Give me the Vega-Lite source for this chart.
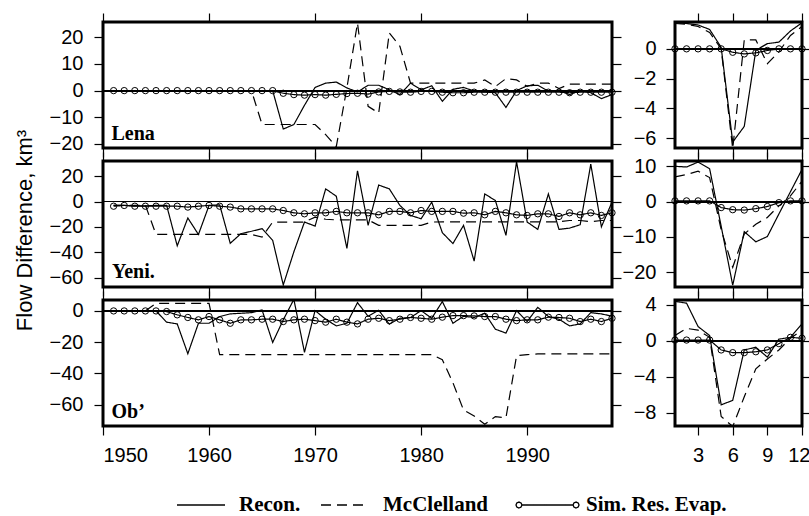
{
"$schema": "https://vega.github.io/schema/vega-lite/v6.json",
"padding": {"left": 11, "top": 10, "right": 0, "bottom": 0},
"background": "white",
"config": {
 "view": {"stroke": "black", "strokeWidth": 3},
 "axis": {"labelFont": "Liberation Sans", "labelFontSize": 20, "labelColor": "black", "tickColor": "black", "tickSize": 9, "tickWidth": 1.2, "domain": false, "grid": false, "labelPadding": 10, "titleFont": "Liberation Sans", "titleFontSize": 22, "titleFontWeight": "normal", "titleColor": "black", "format": "d"},
 "line": {"color": "black"},
 "point": {"color": "black"},
 "legend": {"orient": "none", "legendX": 62, "legendY": 449, "direction": "horizontal", "title": null, "padding": 0,
   "symbolType": "stroke", "symbolSize": 4356, "symbolStrokeWidth": 1.3, "symbolStrokeColor": "black",
   "labelFont": "Liberation Serif", "labelFontWeight": "bold", "labelFontSize": 21, "labelColor": "black", "labelOffset": 6, "columnPadding": 8, "labelLimit": 300}
},
"datasets": {
"lenaA": [
{"t":1951,"s":"R","v":0},{"t":1952,"s":"R","v":0},{"t":1953,"s":"R","v":0},{"t":1954,"s":"R","v":0},{"t":1955,"s":"R","v":0},{"t":1956,"s":"R","v":0},{"t":1957,"s":"R","v":0},{"t":1958,"s":"R","v":0},{"t":1959,"s":"R","v":0},{"t":1960,"s":"R","v":0},{"t":1961,"s":"R","v":0},{"t":1962,"s":"R","v":0},{"t":1963,"s":"R","v":0},{"t":1964,"s":"R","v":0},{"t":1965,"s":"R","v":0},{"t":1966,"s":"R","v":0},{"t":1967,"s":"R","v":-14.4},{"t":1968,"s":"R","v":-12.7},{"t":1969,"s":"R","v":-5.5},{"t":1970,"s":"R","v":1.2},{"t":1971,"s":"R","v":2.8},{"t":1972,"s":"R","v":3.2},{"t":1973,"s":"R","v":1.0},{"t":1974,"s":"R","v":-0.5},{"t":1975,"s":"R","v":2.0},{"t":1976,"s":"R","v":2.0},{"t":1977,"s":"R","v":0.3},{"t":1978,"s":"R","v":-1.5},{"t":1979,"s":"R","v":2.8},{"t":1980,"s":"R","v":0.3},{"t":1981,"s":"R","v":1.8},{"t":1982,"s":"R","v":-4.0},{"t":1983,"s":"R","v":0.5},{"t":1984,"s":"R","v":1.2},{"t":1985,"s":"R","v":-0.2},{"t":1986,"s":"R","v":-0.5},{"t":1987,"s":"R","v":-0.8},{"t":1988,"s":"R","v":-6.3},{"t":1989,"s":"R","v":0},{"t":1990,"s":"R","v":1.8},{"t":1991,"s":"R","v":2.0},{"t":1992,"s":"R","v":-0.2},{"t":1993,"s":"R","v":0},{"t":1994,"s":"R","v":-1.5},{"t":1995,"s":"R","v":0},{"t":1996,"s":"R","v":-0.8},{"t":1997,"s":"R","v":-3.0},{"t":1998,"s":"R","v":-1.5},
{"t":1951,"s":"M","v":0},{"t":1952,"s":"M","v":0},{"t":1953,"s":"M","v":0},{"t":1954,"s":"M","v":0},{"t":1955,"s":"M","v":0},{"t":1956,"s":"M","v":0},{"t":1957,"s":"M","v":0},{"t":1958,"s":"M","v":0},{"t":1959,"s":"M","v":0},{"t":1960,"s":"M","v":0},{"t":1961,"s":"M","v":0},{"t":1962,"s":"M","v":0},{"t":1963,"s":"M","v":0},{"t":1964,"s":"M","v":0},{"t":1965,"s":"M","v":-12.7},{"t":1966,"s":"M","v":-12.7},{"t":1967,"s":"M","v":-12.7},{"t":1968,"s":"M","v":-12.7},{"t":1969,"s":"M","v":-12.7},{"t":1970,"s":"M","v":-12.7},{"t":1971,"s":"M","v":-16.5},{"t":1972,"s":"M","v":-21},{"t":1973,"s":"M","v":1},{"t":1974,"s":"M","v":25.3},{"t":1975,"s":"M","v":-5.9},{"t":1976,"s":"M","v":-8.4},{"t":1977,"s":"M","v":21.6},{"t":1978,"s":"M","v":16.6},{"t":1979,"s":"M","v":2.8},{"t":1980,"s":"M","v":2.8},{"t":1981,"s":"M","v":2.8},{"t":1982,"s":"M","v":2.8},{"t":1983,"s":"M","v":2.8},{"t":1984,"s":"M","v":2.8},{"t":1985,"s":"M","v":2.8},{"t":1986,"s":"M","v":4.0},{"t":1987,"s":"M","v":1.5},{"t":1988,"s":"M","v":4.5},{"t":1989,"s":"M","v":4.0},{"t":1990,"s":"M","v":1.6},{"t":1991,"s":"M","v":2.8},{"t":1992,"s":"M","v":2.8},{"t":1993,"s":"M","v":0.8},{"t":1994,"s":"M","v":2.4},{"t":1995,"s":"M","v":2.4},{"t":1996,"s":"M","v":2.4},{"t":1997,"s":"M","v":2.4},{"t":1998,"s":"M","v":2.4},
{"t":1951,"s":"S","v":0},{"t":1952,"s":"S","v":0},{"t":1953,"s":"S","v":0},{"t":1954,"s":"S","v":0},{"t":1955,"s":"S","v":0},{"t":1956,"s":"S","v":0},{"t":1957,"s":"S","v":0},{"t":1958,"s":"S","v":0},{"t":1959,"s":"S","v":0},{"t":1960,"s":"S","v":0},{"t":1961,"s":"S","v":0},{"t":1962,"s":"S","v":0},{"t":1963,"s":"S","v":0},{"t":1964,"s":"S","v":0},{"t":1965,"s":"S","v":0},{"t":1966,"s":"S","v":0},{"t":1967,"s":"S","v":-1.0},{"t":1968,"s":"S","v":-1.5},{"t":1969,"s":"S","v":-1.7},{"t":1970,"s":"S","v":-1.5},{"t":1971,"s":"S","v":-1.7},{"t":1972,"s":"S","v":-1.4},{"t":1973,"s":"S","v":-1.1},{"t":1974,"s":"S","v":-1.0},{"t":1975,"s":"S","v":-1.3},{"t":1976,"s":"S","v":-0.5},{"t":1977,"s":"S","v":-0.3},{"t":1978,"s":"S","v":-0.5},{"t":1979,"s":"S","v":-0.6},{"t":1980,"s":"S","v":-0.3},{"t":1981,"s":"S","v":-0.3},{"t":1982,"s":"S","v":-0.6},{"t":1983,"s":"S","v":-0.8},{"t":1984,"s":"S","v":-0.8},{"t":1985,"s":"S","v":-0.6},{"t":1986,"s":"S","v":-0.6},{"t":1987,"s":"S","v":-0.6},{"t":1988,"s":"S","v":-0.6},{"t":1989,"s":"S","v":-0.6},{"t":1990,"s":"S","v":-0.6},{"t":1991,"s":"S","v":-0.6},{"t":1992,"s":"S","v":-0.6},{"t":1993,"s":"S","v":-0.6},{"t":1994,"s":"S","v":-0.8},{"t":1995,"s":"S","v":-0.6},{"t":1996,"s":"S","v":-0.6},{"t":1997,"s":"S","v":-0.6},{"t":1998,"s":"S","v":-0.6}
],
"yeniA": [
{"t":1951,"s":"R","v":-3},{"t":1952,"s":"R","v":-3},{"t":1953,"s":"R","v":-3.5},{"t":1954,"s":"R","v":-3.5},{"t":1955,"s":"R","v":-3},{"t":1956,"s":"R","v":-3},{"t":1957,"s":"R","v":-35},{"t":1958,"s":"R","v":-13},{"t":1959,"s":"R","v":-26},{"t":1960,"s":"R","v":-3.1},{"t":1961,"s":"R","v":-2.6},{"t":1962,"s":"R","v":-33},{"t":1963,"s":"R","v":-25.4},{"t":1964,"s":"R","v":-23.5},{"t":1965,"s":"R","v":-21.4},{"t":1966,"s":"R","v":-30.6},{"t":1967,"s":"R","v":-65.9},{"t":1968,"s":"R","v":-39.7},{"t":1969,"s":"R","v":-16.2},{"t":1970,"s":"R","v":-19.4},{"t":1971,"s":"R","v":10},{"t":1972,"s":"R","v":4.2},{"t":1973,"s":"R","v":-37},{"t":1974,"s":"R","v":24.3},{"t":1975,"s":"R","v":-18.8},{"t":1976,"s":"R","v":13},{"t":1977,"s":"R","v":10},{"t":1978,"s":"R","v":-3.1},{"t":1979,"s":"R","v":-11},{"t":1980,"s":"R","v":-13.6},{"t":1981,"s":"R","v":-0.5},{"t":1982,"s":"R","v":-24.6},{"t":1983,"s":"R","v":-33.2},{"t":1984,"s":"R","v":-18.8},{"t":1985,"s":"R","v":-47},{"t":1986,"s":"R","v":6},{"t":1987,"s":"R","v":0.8},{"t":1988,"s":"R","v":-26.7},{"t":1989,"s":"R","v":31.4},{"t":1990,"s":"R","v":-16.2},{"t":1991,"s":"R","v":-22},{"t":1992,"s":"R","v":6},{"t":1993,"s":"R","v":-22},{"t":1994,"s":"R","v":-21},{"t":1995,"s":"R","v":-18.3},{"t":1996,"s":"R","v":29.5},{"t":1997,"s":"R","v":-20},{"t":1998,"s":"R","v":-0.5},
{"t":1951,"s":"M","v":-3},{"t":1952,"s":"M","v":-3},{"t":1953,"s":"M","v":-3},{"t":1954,"s":"M","v":-3},{"t":1955,"s":"M","v":-26},{"t":1956,"s":"M","v":-26},{"t":1957,"s":"M","v":-26},{"t":1958,"s":"M","v":-26},{"t":1959,"s":"M","v":-26},{"t":1960,"s":"M","v":-26},{"t":1961,"s":"M","v":-26},{"t":1962,"s":"M","v":-26},{"t":1963,"s":"M","v":-26},{"t":1964,"s":"M","v":-26},{"t":1965,"s":"M","v":-28},{"t":1966,"s":"M","v":-16.2},{"t":1967,"s":"M","v":-16.2},{"t":1968,"s":"M","v":-16.2},{"t":1969,"s":"M","v":-16.2},{"t":1970,"s":"M","v":-12.3},{"t":1971,"s":"M","v":-14},{"t":1972,"s":"M","v":-14.5},{"t":1973,"s":"M","v":-14.5},{"t":1974,"s":"M","v":-14.5},{"t":1975,"s":"M","v":-14.5},{"t":1976,"s":"M","v":-18.8},{"t":1977,"s":"M","v":-18.8},{"t":1978,"s":"M","v":-18.8},{"t":1979,"s":"M","v":-18.8},{"t":1980,"s":"M","v":-18.8},{"t":1981,"s":"M","v":-16.2},{"t":1982,"s":"M","v":-16},{"t":1983,"s":"M","v":-16},{"t":1984,"s":"M","v":-16},{"t":1985,"s":"M","v":-16},{"t":1986,"s":"M","v":-16},{"t":1987,"s":"M","v":-16},{"t":1988,"s":"M","v":-16},{"t":1989,"s":"M","v":-16},{"t":1990,"s":"M","v":-16},{"t":1991,"s":"M","v":-16},{"t":1992,"s":"M","v":-16},{"t":1993,"s":"M","v":-16},{"t":1994,"s":"M","v":-15},{"t":1995,"s":"M","v":-15},{"t":1996,"s":"M","v":-16},{"t":1997,"s":"M","v":-15},{"t":1998,"s":"M","v":-15},
{"t":1951,"s":"S","v":-3.7},{"t":1952,"s":"S","v":-3.1},{"t":1953,"s":"S","v":-3.7},{"t":1954,"s":"S","v":-3.7},{"t":1955,"s":"S","v":-3.7},{"t":1956,"s":"S","v":-3.7},{"t":1957,"s":"S","v":-3.7},{"t":1958,"s":"S","v":-4.4},{"t":1959,"s":"S","v":-3.7},{"t":1960,"s":"S","v":-3.1},{"t":1961,"s":"S","v":-3.7},{"t":1962,"s":"S","v":-4.4},{"t":1963,"s":"S","v":-5.8},{"t":1964,"s":"S","v":-5.8},{"t":1965,"s":"S","v":-5.8},{"t":1966,"s":"S","v":-5.8},{"t":1967,"s":"S","v":-7.1},{"t":1968,"s":"S","v":-8.9},{"t":1969,"s":"S","v":-9.7},{"t":1970,"s":"S","v":-8.9},{"t":1971,"s":"S","v":-8.9},{"t":1972,"s":"S","v":-7.8},{"t":1973,"s":"S","v":-8.9},{"t":1974,"s":"S","v":-8.9},{"t":1975,"s":"S","v":-8.9},{"t":1976,"s":"S","v":-10.5},{"t":1977,"s":"S","v":-7.8},{"t":1978,"s":"S","v":-7.8},{"t":1979,"s":"S","v":-8.9},{"t":1980,"s":"S","v":-7.1},{"t":1981,"s":"S","v":-7.8},{"t":1982,"s":"S","v":-7.8},{"t":1983,"s":"S","v":-7.8},{"t":1984,"s":"S","v":-9.2},{"t":1985,"s":"S","v":-8.9},{"t":1986,"s":"S","v":-10.5},{"t":1987,"s":"S","v":-7.8},{"t":1988,"s":"S","v":-8.9},{"t":1989,"s":"S","v":-10.5},{"t":1990,"s":"S","v":-11},{"t":1991,"s":"S","v":-9.7},{"t":1992,"s":"S","v":-9.7},{"t":1993,"s":"S","v":-11.8},{"t":1994,"s":"S","v":-8.9},{"t":1995,"s":"S","v":-10.5},{"t":1996,"s":"S","v":-8.9},{"t":1997,"s":"S","v":-11},{"t":1998,"s":"S","v":-8.9}
],
"obA": [
{"t":1951,"s":"R","v":0},{"t":1952,"s":"R","v":0},{"t":1953,"s":"R","v":0},{"t":1954,"s":"R","v":0},{"t":1955,"s":"R","v":0},{"t":1956,"s":"R","v":-7.2},{"t":1957,"s":"R","v":-8.3},{"t":1958,"s":"R","v":-27.4},{"t":1959,"s":"R","v":-7.9},{"t":1960,"s":"R","v":-7.9},{"t":1961,"s":"R","v":-3.6},{"t":1962,"s":"R","v":-1.9},{"t":1963,"s":"R","v":-1.5},{"t":1964,"s":"R","v":-1.1},{"t":1965,"s":"R","v":0.6},{"t":1966,"s":"R","v":-20.2},{"t":1967,"s":"R","v":-5.7},{"t":1968,"s":"R","v":7.4},{"t":1969,"s":"R","v":-26.5},{"t":1970,"s":"R","v":0.2},{"t":1971,"s":"R","v":-5.3},{"t":1972,"s":"R","v":-9.6},{"t":1973,"s":"R","v":-7.9},{"t":1974,"s":"R","v":5.3},{"t":1975,"s":"R","v":-3.4},{"t":1976,"s":"R","v":0.4},{"t":1977,"s":"R","v":-8.5},{"t":1978,"s":"R","v":-4.7},{"t":1979,"s":"R","v":-4.2},{"t":1980,"s":"R","v":0.2},{"t":1981,"s":"R","v":-4.7},{"t":1982,"s":"R","v":6},{"t":1983,"s":"R","v":-7.9},{"t":1984,"s":"R","v":-3.4},{"t":1985,"s":"R","v":-4.2},{"t":1986,"s":"R","v":-1.5},{"t":1987,"s":"R","v":-11.7},{"t":1988,"s":"R","v":-14.2},{"t":1989,"s":"R","v":0.2},{"t":1990,"s":"R","v":-6.8},{"t":1991,"s":"R","v":2.3},{"t":1992,"s":"R","v":-3.6},{"t":1993,"s":"R","v":-5.3},{"t":1994,"s":"R","v":-9.6},{"t":1995,"s":"R","v":-8.3},{"t":1996,"s":"R","v":-1.1},{"t":1997,"s":"R","v":-1.9},{"t":1998,"s":"R","v":-3.4},
{"t":1951,"s":"M","v":0},{"t":1952,"s":"M","v":0},{"t":1953,"s":"M","v":0},{"t":1954,"s":"M","v":0},{"t":1955,"s":"M","v":4.9},{"t":1956,"s":"M","v":4.9},{"t":1957,"s":"M","v":4.9},{"t":1958,"s":"M","v":4.9},{"t":1959,"s":"M","v":4.9},{"t":1960,"s":"M","v":4.9},{"t":1961,"s":"M","v":-28},{"t":1962,"s":"M","v":-28},{"t":1963,"s":"M","v":-28},{"t":1964,"s":"M","v":-28},{"t":1965,"s":"M","v":-28},{"t":1966,"s":"M","v":-28},{"t":1967,"s":"M","v":-28},{"t":1968,"s":"M","v":-28},{"t":1969,"s":"M","v":-28},{"t":1970,"s":"M","v":-28},{"t":1971,"s":"M","v":-28},{"t":1972,"s":"M","v":-28},{"t":1973,"s":"M","v":-28},{"t":1974,"s":"M","v":-28},{"t":1975,"s":"M","v":-28},{"t":1976,"s":"M","v":-28},{"t":1977,"s":"M","v":-28},{"t":1978,"s":"M","v":-28},{"t":1979,"s":"M","v":-28},{"t":1980,"s":"M","v":-28},{"t":1981,"s":"M","v":-28},{"t":1982,"s":"M","v":-31.2},{"t":1983,"s":"M","v":-46},{"t":1984,"s":"M","v":-63.5},{"t":1985,"s":"M","v":-67.3},{"t":1986,"s":"M","v":-72.6},{"t":1987,"s":"M","v":-67.7},{"t":1988,"s":"M","v":-68.4},{"t":1989,"s":"M","v":-28.7},{"t":1990,"s":"M","v":-28},{"t":1991,"s":"M","v":-27.5},{"t":1992,"s":"M","v":-27.5},{"t":1993,"s":"M","v":-27.5},{"t":1994,"s":"M","v":-27.5},{"t":1995,"s":"M","v":-27.5},{"t":1996,"s":"M","v":-27.5},{"t":1997,"s":"M","v":-27.5},{"t":1998,"s":"M","v":-27.5},
{"t":1951,"s":"S","v":0},{"t":1952,"s":"S","v":0},{"t":1953,"s":"S","v":0},{"t":1954,"s":"S","v":0},{"t":1955,"s":"S","v":0},{"t":1956,"s":"S","v":-0.4},{"t":1957,"s":"S","v":-2.5},{"t":1958,"s":"S","v":-4.2},{"t":1959,"s":"S","v":-5.7},{"t":1960,"s":"S","v":-3.6},{"t":1961,"s":"S","v":-5.7},{"t":1962,"s":"S","v":-7.9},{"t":1963,"s":"S","v":-5.7},{"t":1964,"s":"S","v":-5.7},{"t":1965,"s":"S","v":-5.3},{"t":1966,"s":"S","v":-5.3},{"t":1967,"s":"S","v":-6.8},{"t":1968,"s":"S","v":-5.7},{"t":1969,"s":"S","v":-5.3},{"t":1970,"s":"S","v":-6.2},{"t":1971,"s":"S","v":-7.2},{"t":1972,"s":"S","v":-5.3},{"t":1973,"s":"S","v":-7.2},{"t":1974,"s":"S","v":-8.3},{"t":1975,"s":"S","v":-5.3},{"t":1976,"s":"S","v":-4.7},{"t":1977,"s":"S","v":-6.2},{"t":1978,"s":"S","v":-5.3},{"t":1979,"s":"S","v":-4.2},{"t":1980,"s":"S","v":-4.7},{"t":1981,"s":"S","v":-5.3},{"t":1982,"s":"S","v":-4.0},{"t":1983,"s":"S","v":-3.0},{"t":1984,"s":"S","v":-3.0},{"t":1985,"s":"S","v":-3.2},{"t":1986,"s":"S","v":-3.6},{"t":1987,"s":"S","v":-3.6},{"t":1988,"s":"S","v":-5.3},{"t":1989,"s":"S","v":-6.2},{"t":1990,"s":"S","v":-5.7},{"t":1991,"s":"S","v":-5.7},{"t":1992,"s":"S","v":-4.0},{"t":1993,"s":"S","v":-4.2},{"t":1994,"s":"S","v":-4.7},{"t":1995,"s":"S","v":-6.8},{"t":1996,"s":"S","v":-5.3},{"t":1997,"s":"S","v":-6.8},{"t":1998,"s":"S","v":-4.7}
],
"lenaM": [
{"t":1,"s":"R","v":1.75},{"t":2,"s":"R","v":1.7},{"t":3,"s":"R","v":1.6},{"t":4,"s":"R","v":1.3},{"t":5,"s":"R","v":0.1},{"t":6,"s":"R","v":-6.25},{"t":7,"s":"R","v":-5.2},{"t":8,"s":"R","v":-0.1},{"t":9,"s":"R","v":0.35},{"t":10,"s":"R","v":0.45},{"t":11,"s":"R","v":1.2},{"t":12,"s":"R","v":1.75},
{"t":1,"s":"M","v":1.7},{"t":2,"s":"M","v":1.65},{"t":3,"s":"M","v":1.5},{"t":4,"s":"M","v":1.1},{"t":5,"s":"M","v":0},{"t":6,"s":"M","v":-6.7},{"t":7,"s":"M","v":0.6},{"t":8,"s":"M","v":0.6},{"t":9,"s":"M","v":-1.0},{"t":10,"s":"M","v":-0.2},{"t":11,"s":"M","v":0.9},{"t":12,"s":"M","v":1.5},
{"t":1,"s":"S","v":0},{"t":2,"s":"S","v":0},{"t":3,"s":"S","v":0},{"t":4,"s":"S","v":0},{"t":5,"s":"S","v":0},{"t":6,"s":"S","v":-0.23},{"t":7,"s":"S","v":-0.34},{"t":8,"s":"S","v":-0.27},{"t":9,"s":"S","v":-0.11},{"t":10,"s":"S","v":0},{"t":11,"s":"S","v":0},{"t":12,"s":"S","v":0}
],
"yeniM": [
{"t":1,"s":"R","v":10},{"t":2,"s":"R","v":9.8},{"t":3,"s":"R","v":11.2},{"t":4,"s":"R","v":9.3},{"t":5,"s":"R","v":-7},{"t":6,"s":"R","v":-23.7},{"t":7,"s":"R","v":-8.5},{"t":8,"s":"R","v":-11.4},{"t":9,"s":"R","v":-9.9},{"t":10,"s":"R","v":-3.5},{"t":11,"s":"R","v":2.8},{"t":12,"s":"R","v":9.1},
{"t":1,"s":"M","v":7},{"t":2,"s":"M","v":7.7},{"t":3,"s":"M","v":8.6},{"t":4,"s":"M","v":6.8},{"t":5,"s":"M","v":-8},{"t":6,"s":"M","v":-18.6},{"t":7,"s":"M","v":-9.2},{"t":8,"s":"M","v":-6.4},{"t":9,"s":"M","v":-4.5},{"t":10,"s":"M","v":-1.2},{"t":11,"s":"M","v":1.6},{"t":12,"s":"M","v":5.8},
{"t":1,"s":"S","v":0.2},{"t":2,"s":"S","v":0.2},{"t":3,"s":"S","v":0.2},{"t":4,"s":"S","v":0.2},{"t":5,"s":"S","v":-1.7},{"t":6,"s":"S","v":-2.3},{"t":7,"s":"S","v":-2.4},{"t":8,"s":"S","v":-2},{"t":9,"s":"S","v":-1.4},{"t":10,"s":"S","v":-0.3},{"t":11,"s":"S","v":0.2},{"t":12,"s":"S","v":0.2}
],
"obM": [
{"t":1,"s":"R","v":4.4},{"t":2,"s":"R","v":4.2},{"t":3,"s":"R","v":1.6},{"t":4,"s":"R","v":0.6},{"t":5,"s":"R","v":-7.1},{"t":6,"s":"R","v":-6.6},{"t":7,"s":"R","v":-1},{"t":8,"s":"R","v":-0.7},{"t":9,"s":"R","v":-1.8},{"t":10,"s":"R","v":0.2},{"t":11,"s":"R","v":0.4},{"t":12,"s":"R","v":1.9},
{"t":1,"s":"M","v":0.6},{"t":2,"s":"M","v":1.4},{"t":3,"s":"M","v":1.2},{"t":4,"s":"M","v":0.4},{"t":5,"s":"M","v":-8.4},{"t":6,"s":"M","v":-9.5},{"t":7,"s":"M","v":-6.2},{"t":8,"s":"M","v":-3.1},{"t":9,"s":"M","v":-2},{"t":10,"s":"M","v":-1},{"t":11,"s":"M","v":0.3},{"t":12,"s":"M","v":1.2},
{"t":1,"s":"S","v":0.1},{"t":2,"s":"S","v":0.1},{"t":3,"s":"S","v":0.1},{"t":4,"s":"S","v":0.1},{"t":5,"s":"S","v":-1.0},{"t":6,"s":"S","v":-1.3},{"t":7,"s":"S","v":-1.3},{"t":8,"s":"S","v":-1.2},{"t":9,"s":"S","v":-1.0},{"t":10,"s":"S","v":-0.3},{"t":11,"s":"S","v":0.4},{"t":12,"s":"S","v":0.3}
]
},
"columns": 2,
"spacing": {"row": 13, "column": 63},
"bounds": "flush",
"concat": [
 {"width": 509, "height": 126, "data": {"name": "lenaA"}, "resolve": {"axis": {"x": "independent", "y": "independent"}},
  "layer": [
   {"mark": {"type": "rule", "stroke": "black", "strokeWidth": 1.2}, "encoding": {"y": {"datum": 0, "type": "quantitative", "axis": null}}},
   {"mark": {"type": "line", "strokeWidth": 1.2, "clip": true},
    "encoding": {
     "x": {"field": "t", "type": "quantitative", "scale": {"domain": [1950, 1998], "nice": false, "zero": false}, "axis": {"orient": "bottom", "values": [1950,1960,1970,1980,1990], "labels": false, "title": null}},
     "y": {"field": "v", "type": "quantitative", "scale": {"domain": [-21.5, 25.7], "nice": false, "zero": false}, "axis": {"orient": "left", "values": [-20,-10,0,10,20], "title": null, "labelPadding": 11}},
     "strokeDash": {"field": "s", "type": "nominal", "scale": {"domain": ["R","M","S"], "range": [[1,0],[10,6],[1,0]]},
      "legend": {"labelExpr": "datum.label == 'R' ? 'Recon.' : datum.label == 'M' ? 'McClelland' : 'Sim. Res. Evap.'",
       "encode": {"labels": {"update": {"dx": {"signal": "datum.value == 'S' ? 16 : 0"}}}, "symbols": {"update": {"shape": {"signal": "datum.value == 'S' ? 'M-0.245,0L-0.271,0.064L-0.335,0.09L-0.399,0.064L-0.425,0L-0.399,-0.064L-0.335,-0.09L-0.271,-0.064ZM-0.245,0L1.305,0M1.485,0L1.459,0.064L1.395,0.09L1.331,0.064L1.305,0L1.331,-0.064L1.395,-0.09L1.459,-0.064Z' : 'M-0.667,0L0.788,0'"}, "fill": {"value": "transparent"}}}}}}
    }},
   {"transform": [{"filter": "datum.s == 'S'"}], "mark": {"type": "point", "shape": "circle", "filled": false, "strokeWidth": 1, "size": 40, "opacity": 1},
    "encoding": {
     "x": {"field": "t", "type": "quantitative", "axis": {"orient": "top", "values": [1950,1960,1970,1980,1990], "labels": false, "title": null}},
     "y": {"field": "v", "type": "quantitative", "axis": {"orient": "right", "values": [-20,-10,0,10,20], "labels": false, "title": null}}}},
   {"data": {"values": [{"lab": "Lena"}]}, "mark": {"type": "text", "font": "Liberation Serif", "fontWeight": "bold", "fontSize": 20, "align": "left", "baseline": "alphabetic", "color": "black"},
    "encoding": {"x": {"datum": 1950.8, "type": "quantitative", "axis": null}, "y": {"datum": -18.4, "type": "quantitative", "axis": null}, "text": {"field": "lab"}}}
  ]},
 {"width": 127, "height": 126, "data": {"name": "lenaM"}, "resolve": {"axis": {"x": "independent", "y": "independent"}},
  "layer": [
   {"mark": {"type": "rule", "stroke": "black", "strokeWidth": 1.2}, "encoding": {"y": {"datum": 0, "type": "quantitative", "axis": null}}},
   {"mark": {"type": "line", "strokeWidth": 1.2, "clip": true},
    "encoding": {
     "x": {"field": "t", "type": "quantitative", "scale": {"domain": [1, 12], "nice": false, "zero": false}, "axis": {"orient": "bottom", "values": [3,6,9,12], "labels": false, "title": null}},
     "y": {"field": "v", "type": "quantitative", "scale": {"domain": [-6.65, 1.8], "nice": false, "zero": false}, "axis": {"orient": "left", "values": [-6,-4,-2,0], "title": null}},
     "strokeDash": {"field": "s", "type": "nominal", "scale": {"domain": ["R","M","S"], "range": [[1,0],[10,6],[1,0]]},
      "legend": {"labelExpr": "datum.label == 'R' ? 'Recon.' : datum.label == 'M' ? 'McClelland' : 'Sim. Res. Evap.'",
       "encode": {"labels": {"update": {"dx": {"signal": "datum.value == 'S' ? 16 : 0"}}}, "symbols": {"update": {"shape": {"signal": "datum.value == 'S' ? 'M-0.245,0L-0.271,0.064L-0.335,0.09L-0.399,0.064L-0.425,0L-0.399,-0.064L-0.335,-0.09L-0.271,-0.064ZM-0.245,0L1.305,0M1.485,0L1.459,0.064L1.395,0.09L1.331,0.064L1.305,0L1.331,-0.064L1.395,-0.09L1.459,-0.064Z' : 'M-0.667,0L0.788,0'"}, "fill": {"value": "transparent"}}}}}}
    }},
   {"transform": [{"filter": "datum.s == 'S'"}], "mark": {"type": "point", "shape": "circle", "filled": false, "strokeWidth": 1, "size": 40, "opacity": 1},
    "encoding": {
     "x": {"field": "t", "type": "quantitative", "axis": {"orient": "top", "values": [3,6,9,12], "labels": false, "title": null}},
     "y": {"field": "v", "type": "quantitative", "axis": {"orient": "right", "values": [-6,-4,-2,0], "labels": false, "title": null, "tickSize": 8}}}}
  ]},
 {"width": 509, "height": 126, "data": {"name": "yeniA"}, "resolve": {"axis": {"x": "independent", "y": "independent"}},
  "layer": [
   {"mark": {"type": "rule", "stroke": "black", "strokeWidth": 1.2}, "encoding": {"y": {"datum": 0, "type": "quantitative", "axis": null}}},
   {"mark": {"type": "line", "strokeWidth": 1.2, "clip": true},
    "encoding": {
     "x": {"field": "t", "type": "quantitative", "scale": {"domain": [1950, 1998], "nice": false, "zero": false}, "axis": {"orient": "bottom", "values": [1950,1960,1970,1980,1990], "labels": false, "title": null}},
     "y": {"field": "v", "type": "quantitative", "scale": {"domain": [-67.5, 32], "nice": false, "zero": false}, "axis": {"orient": "left", "values": [-60,-40,-20,0,20], "title": "Flow Difference, km³", "titlePadding": 13, "titleY": 69, "labelPadding": 11}},
     "strokeDash": {"field": "s", "type": "nominal", "scale": {"domain": ["R","M","S"], "range": [[1,0],[10,6],[1,0]]},
      "legend": {"labelExpr": "datum.label == 'R' ? 'Recon.' : datum.label == 'M' ? 'McClelland' : 'Sim. Res. Evap.'",
       "encode": {"labels": {"update": {"dx": {"signal": "datum.value == 'S' ? 16 : 0"}}}, "symbols": {"update": {"shape": {"signal": "datum.value == 'S' ? 'M-0.245,0L-0.271,0.064L-0.335,0.09L-0.399,0.064L-0.425,0L-0.399,-0.064L-0.335,-0.09L-0.271,-0.064ZM-0.245,0L1.305,0M1.485,0L1.459,0.064L1.395,0.09L1.331,0.064L1.305,0L1.331,-0.064L1.395,-0.09L1.459,-0.064Z' : 'M-0.667,0L0.788,0'"}, "fill": {"value": "transparent"}}}}}}
    }},
   {"transform": [{"filter": "datum.s == 'S'"}], "mark": {"type": "point", "shape": "circle", "filled": false, "strokeWidth": 1, "size": 40, "opacity": 1},
    "encoding": {
     "x": {"field": "t", "type": "quantitative", "axis": {"orient": "top", "values": [1950,1960,1970,1980,1990], "labels": false, "title": null}},
     "y": {"field": "v", "type": "quantitative", "axis": {"orient": "right", "values": [-60,-40,-20,0,20], "labels": false, "title": null}}}},
   {"data": {"values": [{"lab": "Yeni."}]}, "mark": {"type": "text", "font": "Liberation Serif", "fontWeight": "bold", "fontSize": 20, "align": "left", "baseline": "alphabetic", "color": "black"},
    "encoding": {"x": {"datum": 1950.85, "type": "quantitative", "axis": null}, "y": {"datum": -60.2, "type": "quantitative", "axis": null}, "text": {"field": "lab"}}}
  ]},
 {"width": 127, "height": 126, "data": {"name": "yeniM"}, "resolve": {"axis": {"x": "independent", "y": "independent"}},
  "layer": [
   {"mark": {"type": "rule", "stroke": "black", "strokeWidth": 1.2}, "encoding": {"y": {"datum": 0, "type": "quantitative", "axis": null}}},
   {"mark": {"type": "line", "strokeWidth": 1.2, "clip": true},
    "encoding": {
     "x": {"field": "t", "type": "quantitative", "scale": {"domain": [1, 12], "nice": false, "zero": false}, "axis": {"orient": "bottom", "values": [3,6,9,12], "labels": false, "title": null}},
     "y": {"field": "v", "type": "quantitative", "scale": {"domain": [-24.2, 11.5], "nice": false, "zero": false}, "axis": {"orient": "left", "values": [-20,-10,0,10], "title": null}},
     "strokeDash": {"field": "s", "type": "nominal", "scale": {"domain": ["R","M","S"], "range": [[1,0],[10,6],[1,0]]},
      "legend": {"labelExpr": "datum.label == 'R' ? 'Recon.' : datum.label == 'M' ? 'McClelland' : 'Sim. Res. Evap.'",
       "encode": {"labels": {"update": {"dx": {"signal": "datum.value == 'S' ? 16 : 0"}}}, "symbols": {"update": {"shape": {"signal": "datum.value == 'S' ? 'M-0.245,0L-0.271,0.064L-0.335,0.09L-0.399,0.064L-0.425,0L-0.399,-0.064L-0.335,-0.09L-0.271,-0.064ZM-0.245,0L1.305,0M1.485,0L1.459,0.064L1.395,0.09L1.331,0.064L1.305,0L1.331,-0.064L1.395,-0.09L1.459,-0.064Z' : 'M-0.667,0L0.788,0'"}, "fill": {"value": "transparent"}}}}}}
    }},
   {"transform": [{"filter": "datum.s == 'S'"}], "mark": {"type": "point", "shape": "circle", "filled": false, "strokeWidth": 1, "size": 40, "opacity": 1},
    "encoding": {
     "x": {"field": "t", "type": "quantitative", "axis": {"orient": "top", "values": [3,6,9,12], "labels": false, "title": null}},
     "y": {"field": "v", "type": "quantitative", "axis": {"orient": "right", "values": [-20,-10,0,10], "labels": false, "title": null, "tickSize": 8}}}}
  ]},
 {"width": 509, "height": 126, "data": {"name": "obA"}, "resolve": {"axis": {"x": "independent", "y": "independent"}},
  "layer": [
   {"mark": {"type": "rule", "stroke": "black", "strokeWidth": 1.2}, "encoding": {"y": {"datum": 0, "type": "quantitative", "axis": null}}},
   {"mark": {"type": "line", "strokeWidth": 1.2, "clip": true},
    "encoding": {
     "x": {"field": "t", "type": "quantitative", "scale": {"domain": [1950, 1998], "nice": false, "zero": false}, "axis": {"orient": "bottom", "values": [1950,1960,1970,1980,1990], "title": null}},
     "y": {"field": "v", "type": "quantitative", "scale": {"domain": [-73.7, 7], "nice": false, "zero": false}, "axis": {"orient": "left", "values": [-60,-40,-20,0], "title": null, "labelPadding": 11}},
     "strokeDash": {"field": "s", "type": "nominal", "scale": {"domain": ["R","M","S"], "range": [[1,0],[10,6],[1,0]]},
      "legend": {"labelExpr": "datum.label == 'R' ? 'Recon.' : datum.label == 'M' ? 'McClelland' : 'Sim. Res. Evap.'",
       "encode": {"labels": {"update": {"dx": {"signal": "datum.value == 'S' ? 16 : 0"}}}, "symbols": {"update": {"shape": {"signal": "datum.value == 'S' ? 'M-0.245,0L-0.271,0.064L-0.335,0.09L-0.399,0.064L-0.425,0L-0.399,-0.064L-0.335,-0.09L-0.271,-0.064ZM-0.245,0L1.305,0M1.485,0L1.459,0.064L1.395,0.09L1.331,0.064L1.305,0L1.331,-0.064L1.395,-0.09L1.459,-0.064Z' : 'M-0.667,0L0.788,0'"}, "fill": {"value": "transparent"}}}}}}
    }},
   {"transform": [{"filter": "datum.s == 'S'"}], "mark": {"type": "point", "shape": "circle", "filled": false, "strokeWidth": 1, "size": 40, "opacity": 1},
    "encoding": {
     "x": {"field": "t", "type": "quantitative", "axis": {"orient": "top", "values": [1950,1960,1970,1980,1990], "labels": false, "title": null}},
     "y": {"field": "v", "type": "quantitative", "axis": {"orient": "right", "values": [-60,-40,-20,0], "labels": false, "title": null}}}},
   {"data": {"values": [{"lab": "Ob’"}]}, "mark": {"type": "text", "font": "Liberation Serif", "fontWeight": "bold", "fontSize": 20, "align": "left", "baseline": "alphabetic", "color": "black"},
    "encoding": {"x": {"datum": 1950.8, "type": "quantitative", "axis": null}, "y": {"datum": -68.3, "type": "quantitative", "axis": null}, "text": {"field": "lab"}}}
  ]},
 {"width": 127, "height": 126, "data": {"name": "obM"}, "resolve": {"axis": {"x": "independent", "y": "independent"}},
  "layer": [
   {"mark": {"type": "rule", "stroke": "black", "strokeWidth": 1.2}, "encoding": {"y": {"datum": 0, "type": "quantitative", "axis": null}}},
   {"mark": {"type": "line", "strokeWidth": 1.2, "clip": true},
    "encoding": {
     "x": {"field": "t", "type": "quantitative", "scale": {"domain": [1, 12], "nice": false, "zero": false}, "axis": {"orient": "bottom", "values": [3,6,9,12], "title": null, "labelFlush": true, "labelFlushOffset": 8}},
     "y": {"field": "v", "type": "quantitative", "scale": {"domain": [-9.45, 4.55], "nice": false, "zero": false}, "axis": {"orient": "left", "values": [-8,-4,0,4], "title": null}},
     "strokeDash": {"field": "s", "type": "nominal", "scale": {"domain": ["R","M","S"], "range": [[1,0],[10,6],[1,0]]},
      "legend": {"labelExpr": "datum.label == 'R' ? 'Recon.' : datum.label == 'M' ? 'McClelland' : 'Sim. Res. Evap.'",
       "encode": {"labels": {"update": {"dx": {"signal": "datum.value == 'S' ? 16 : 0"}}}, "symbols": {"update": {"shape": {"signal": "datum.value == 'S' ? 'M-0.245,0L-0.271,0.064L-0.335,0.09L-0.399,0.064L-0.425,0L-0.399,-0.064L-0.335,-0.09L-0.271,-0.064ZM-0.245,0L1.305,0M1.485,0L1.459,0.064L1.395,0.09L1.331,0.064L1.305,0L1.331,-0.064L1.395,-0.09L1.459,-0.064Z' : 'M-0.667,0L0.788,0'"}, "fill": {"value": "transparent"}}}}}}
    }},
   {"transform": [{"filter": "datum.s == 'S'"}], "mark": {"type": "point", "shape": "circle", "filled": false, "strokeWidth": 1, "size": 40, "opacity": 1},
    "encoding": {
     "x": {"field": "t", "type": "quantitative", "axis": {"orient": "top", "values": [3,6,9,12], "labels": false, "title": null}},
     "y": {"field": "v", "type": "quantitative", "axis": {"orient": "right", "values": [-8,-4,0,4], "labels": false, "title": null, "tickSize": 8}}}}
  ]}
]
}
